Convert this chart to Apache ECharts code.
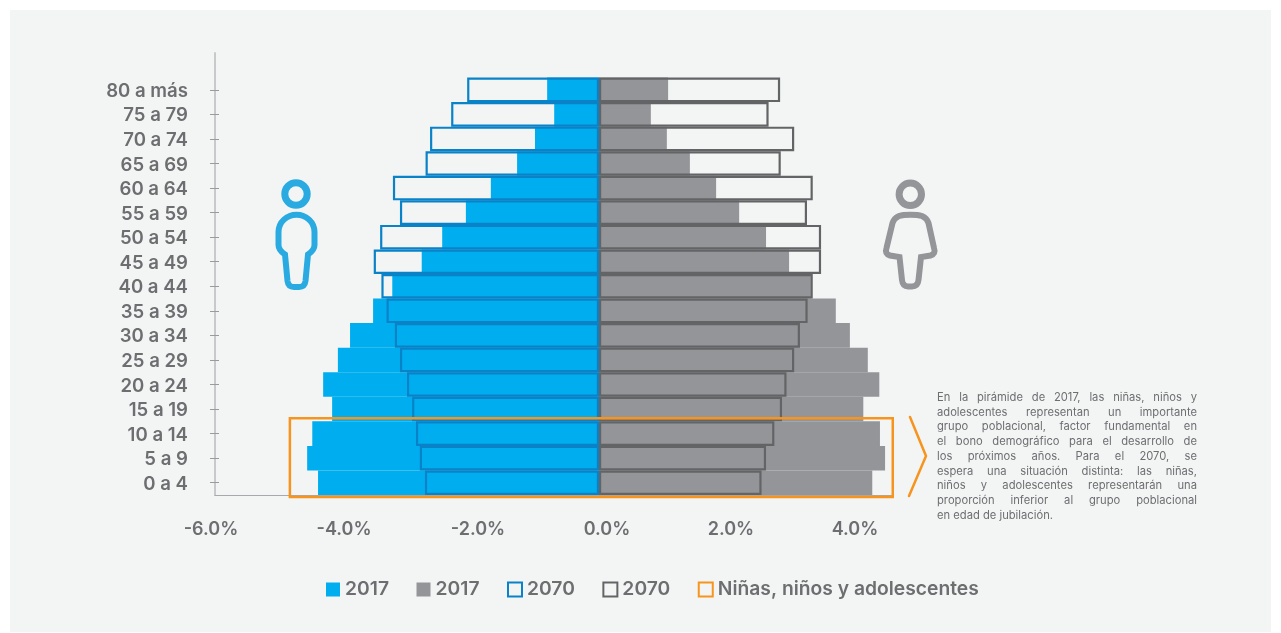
<!DOCTYPE html>
<html>
<head>
<meta charset="utf-8">
<title>Pirámide poblacional</title>
<script src="https://cdn.jsdelivr.net/npm/echarts@6/dist/echarts.min.js"></script>
<style>
  html, body { margin: 0; padding: 0; background: #fff; }
  #panel { position: absolute; left: 10px; top: 10px; width: 1261px; height: 622px; background: #f3f5f5; }
  #chart { position: absolute; left: 0; top: 0; width: 1281px; height: 633px; }
  #note {
    position: absolute; left: 937px; top: 390px; width: 260px;
    font: 11.2px/14.7px Inter, sans-serif; color: #6d6e70;
  }
  #note div { text-align: justify; text-align-last: justify; white-space: nowrap; }
  #note div:last-child { text-align-last: left; }
</style>
</head>
<body>
<div id="panel"></div>
<div id="chart"></div>
<div id="note">
  <div>En la pirámide de 2017, las niñas, niños y</div>
  <div>adolescentes representan un importante</div>
  <div>grupo poblacional, factor fundamental en</div>
  <div>el bono demográfico para el desarrollo de</div>
  <div>los próximos años. Para el 2070, se</div>
  <div>espera una situación distinta: las niñas,</div>
  <div>niños y adolescentes representarán una</div>
  <div>proporción inferior al grupo poblacional</div>
  <div>en edad de jubilación.</div>
</div>
<script>
  // age groups, bottom to top
  const ageGroups = ['0 a 4', '5 a 9', '10 a 14', '15 a 19', '20 a 24', '25 a 29', '30 a 34', '35 a 39', '40 a 44',
    '45 a 49', '50 a 54', '55 a 59', '60 a 64', '65 a 69', '70 a 74', '75 a 79', '80 a más'];
  const hombres2017 = [4.39, 4.56, 4.48, 4.17, 4.31, 4.08, 3.89, 3.53, 3.23, 2.77, 2.45, 2.08, 1.69, 1.28, 1.00, 0.70, 0.81];
  const mujeres2017 = [4.27, 4.47, 4.39, 4.13, 4.38, 4.20, 3.92, 3.70, 3.31, 2.97, 2.61, 2.19, 1.83, 1.42, 1.06, 0.81, 1.08];
  const hombres2070 = [2.72, 2.80, 2.86, 2.92, 3.00, 3.11, 3.19, 3.32, 3.40, 3.52, 3.42, 3.11, 3.22, 2.71, 2.64, 2.31, 2.06];
  const mujeres2070 = [2.54, 2.61, 2.74, 2.86, 2.93, 3.05, 3.14, 3.26, 3.34, 3.47, 3.47, 3.25, 3.34, 2.84, 3.05, 2.65, 2.83];
  const xTicks = [-6, -4, -2, 0, 2, 4];
  const xTickLabels = ['-6.0%', '-4.0%', '-2.0%', '0.0%', '2.0%', '4.0%'];
  // x range and age-group range of the highlighted box
  const boxRange = [-4.83, 4.59];
  const boxGroups = [0, 2];
  const legendLabels = {
    'Hombres 2017': '2017',
    'Mujeres 2017': '2017',
    'Hombres 2070': '2070',
    'Mujeres 2070': '2070',
    'Niñas, niños y adolescentes': 'Niñas, niños y adolescentes',
  };

  const BLUE = '#00aeef';
  const BLUE_LINE = '#0a82c8';
  const GREY = '#939598';
  const GREY_LINE = '#636466';
  const ORANGE = '#f7941e';
  const TEXT = '#6d6e70';
  const FONT = 'Inter, sans-serif';

  // the tick labels sit a little off their ticks in the original (px)
  const labelNudge = [-4, 1, 7, 8, 4, 0];
  const tickRich = {};
  labelNudge.forEach((n, i) => {
    tickRich['t' + i] = {
      fontFamily: FONT,
      fontSize: 18,
      fontWeight: 600,
      color: TEXT,
      padding: n > 0 ? [0, 0, 0, n * 2] : [0, -n * 2, 0, 0],
    };
  });

  // person icons, the graphic component has no plain path type
  echarts.graphic.registerShape('iconMan', echarts.graphic.extendPath(
    'M296.5 214.7 C306 214.7 314.5 222 314.5 232 L314.5 245 C314.5 249 311 252.5 308 254.5 L305.5 281 C305 285 302.5 287 299 287 L294 287 C290.5 287 288 285 287.5 281 L285 254.5 C282 252.5 278.5 249 278.5 245 L278.5 232 C278.5 222 287 214.7 296.5 214.7 Z'
  ));
  echarts.graphic.registerShape('iconWoman', echarts.graphic.extendPath(
    'M910.3 214.7 C915 214.7 919 215 922 216 C925.5 217.5 927.5 220 928.5 223 L934 248 C935.5 252 934 254.5 930.5 255.5 L921 257 L918.5 280 C918 284.5 915.5 286.5 912 286.5 L908 286.5 C904.5 286.5 902.5 284.5 902 280 L899.5 257 L890 255.5 C886.5 254.5 885 252 886.5 248 L892.5 223 C893.5 220 895.5 217.5 899 216 C902 215 906 214.7 910.3 214.7 Z'
  ));

  // one empty band on top, the y axis line runs past the last group
  const yData = ageGroups.concat(['']);
  const pad = (arr) => arr.concat([null]);
  const neg = (arr) => arr.map((v) => -v);
  const noLastTick = (idx) => idx !== ageGroups.length;

  const barBase = { type: 'bar', barWidth: '100%', barGap: '-100%', animation: false };

  const chart = echarts.init(document.getElementById('chart'));
  chart.setOption({
    animation: false,
    grid: { left: 215, top: 53, width: 678.4, height: 442, containLabel: false },
    xAxis: {
      type: 'value',
      min: -6,
      max: 4.6,
      interval: 2,
      splitLine: { show: false },
      axisTick: { show: false },
      axisLine: { show: true, lineStyle: { color: '#a7a9ac', width: 1.2 } },
      axisLabel: {
        margin: 26,
        showMaxLabel: false,
        formatter: (v) => {
          const i = xTicks.indexOf(v);
          return i < 0 ? '' : `{t${i}|${xTickLabels[i]}}`;
        },
        rich: tickRich,
      },
    },
    yAxis: [
      {
        type: 'category',
        data: yData,
        axisLine: { show: true, onZero: false, lineStyle: { color: '#c7c9ca', width: 2 } },
        axisTick: { show: true, alignWithLabel: true, length: 5, interval: noLastTick, lineStyle: { color: '#9b9b9b' } },
        axisLabel: {
          margin: 27,
          interval: 0,
          formatter: (v) => (v ? `{age|${v}}` : ''),
          rich: {
            age: { color: TEXT, fontFamily: FONT, fontSize: 18.6, fontWeight: 600, padding: [3, 0, 0, 0] },
          },
        },
      },
      {
        // only there for the inner half of the ticks
        type: 'category',
        data: yData,
        position: 'left',
        axisLine: { show: false, onZero: false },
        axisTick: { show: true, inside: true, alignWithLabel: true, length: 4, interval: noLastTick, lineStyle: { color: '#9b9b9b' } },
        axisLabel: { show: false },
      },
    ],
    legend: {
      left: 321,
      top: 575,
      icon: 'rect',
      itemWidth: 14,
      itemHeight: 14,
      itemGap: 27.5,
      data: Object.keys(legendLabels),
      selectedMode: false,
      formatter: (name) => legendLabels[name],
      textStyle: { color: TEXT, fontFamily: FONT, fontSize: 19.3, fontWeight: 600 },
    },
    series: [
      { ...barBase, name: 'Hombres 2017', data: pad(neg(hombres2017)), itemStyle: { color: BLUE } },
      { ...barBase, name: 'Mujeres 2017', data: pad(mujeres2017), itemStyle: { color: GREY } },
      {
        ...barBase,
        name: 'Mujeres 2070',
        data: pad(mujeres2070),
        itemStyle: { color: 'rgba(0,0,0,0)', borderColor: GREY_LINE, borderWidth: 2.2 },
      },
      {
        ...barBase,
        name: 'Hombres 2070',
        data: pad(neg(hombres2070)),
        itemStyle: { color: 'rgba(0,0,0,0)', borderColor: BLUE_LINE, borderWidth: 2.2 },
      },
      {
        type: 'custom',
        name: 'Niñas, niños y adolescentes',
        data: [[boxRange[0], boxRange[1], boxGroups[0], boxGroups[1]]],
        encode: { x: [0, 1], y: [2, 3] },
        itemStyle: { color: 'rgba(0,0,0,0)', borderColor: ORANGE, borderWidth: 2.5 },
        z: 5,
        renderItem: (params, api) => {
          const band = api.size([0, 1])[1];
          const a = api.coord([api.value(0), api.value(3)]);
          const b = api.coord([api.value(1), api.value(2)]);
          const top = a[1] - band / 2 - 3;
          const bottom = b[1] + band / 2 + 2;
          return {
            type: 'rect',
            shape: { x: a[0], y: top, width: b[0] - a[0], height: bottom - top },
            style: { fill: 'none', stroke: ORANGE, lineWidth: 2.5 },
          };
        },
      },
    ],
    graphic: [
      { type: 'circle', shape: { cx: 296, cy: 194, r: 11.2 }, style: { fill: 'none', stroke: '#29abe2', lineWidth: 7 } },
      { type: 'iconMan', style: { fill: 'none', stroke: '#29abe2', lineWidth: 6 } },
      { type: 'circle', shape: { cx: 910.3, cy: 194.3, r: 11.2 }, style: { fill: 'none', stroke: GREY, lineWidth: 7 } },
      { type: 'iconWoman', style: { fill: 'none', stroke: GREY, lineWidth: 6 } },
      // chevron next to the note
      {
        type: 'polyline',
        shape: { points: [[910, 417], [926, 456], [909, 496]] },
        style: { fill: 'none', stroke: ORANGE, lineWidth: 2.5, lineCap: 'round', lineJoin: 'round' },
      },
    ],
  });
</script>
</body>
</html>
